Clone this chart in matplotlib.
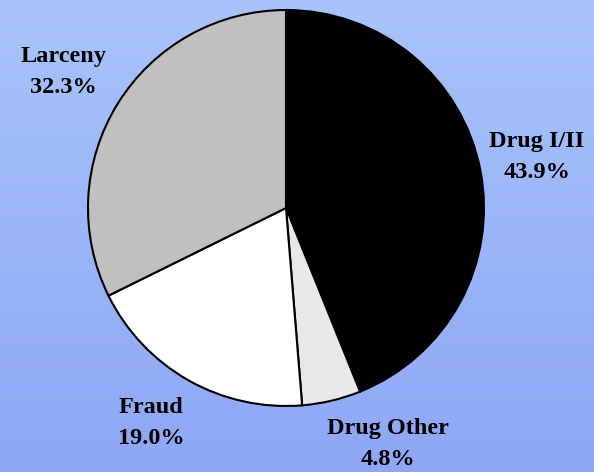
import numpy as np
import matplotlib
matplotlib.use("Agg")
import matplotlib.pyplot as plt

categories = ["Drug I/II", "Drug Other", "Fraud", "Larceny"]
shares = [43.9, 4.8, 19.0, 32.3]
colors = ["#000000", "#e8e8e8", "#ffffff", "#c0c0c0"]

W, H = 594, 472
cx, cy, R = 286, 208, 198

fig = plt.figure(figsize=(W / 100, H / 100), dpi=100)

# gradient background
bg = fig.add_axes([0, 0, 1, 1])
top = np.array([168, 196, 251]) / 255
bot = np.array([142, 167, 245]) / 255
t = np.linspace(0, 1, 256)[:, None]
grad = top[None, :] * (1 - t) + bot[None, :] * t
bg.imshow(grad[:, None, :], aspect="auto", extent=[0, 1, 0, 1])
bg.axis("off")

ax = fig.add_axes([0, 0, 1, 1])
ax.set_facecolor("none")
ax.pie(shares, colors=colors, startangle=90, counterclock=False,
       wedgeprops=dict(edgecolor="black", linewidth=1.5), radius=1.0)
ax.set_xlim(-cx / R, (W - cx) / R)
ax.set_ylim((cy - H) / R, cy / R)
ax.set_aspect("auto")
ax.axis("off")

# label block centers in pixels
label_px = {
    "Drug I/II": (537, 157),
    "Drug Other": (388, 444),
    "Fraud": (151, 423),
    "Larceny": (63, 72),
}
for cat, val in zip(categories, shares):
    px, py = label_px[cat]
    ax.text((px - cx) / R, (cy - py) / R, f"{cat}\n{val:.1f}%",
            ha="center", va="center", fontsize=17.5, fontweight="bold",
            family="Liberation Serif", linespacing=1.6)

fig.savefig("out.png", dpi=100)
